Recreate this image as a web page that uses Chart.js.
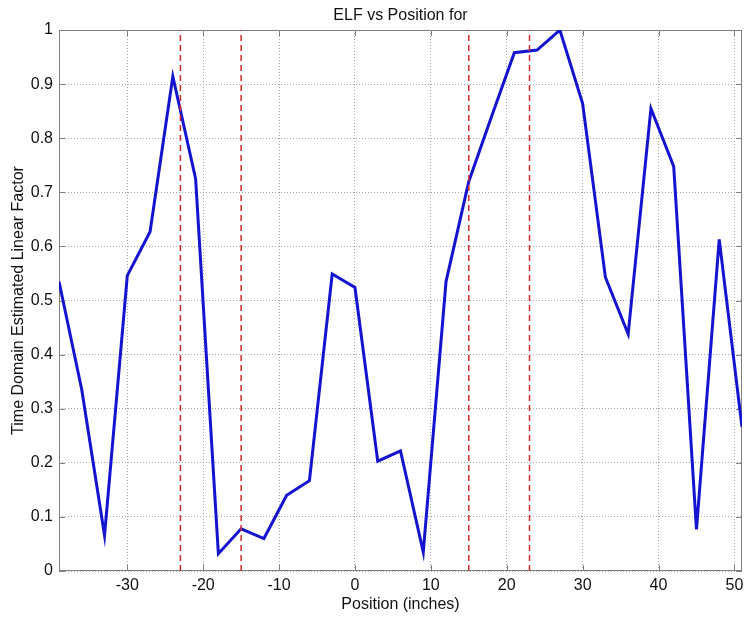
<!DOCTYPE html>
<html>
<head>
<meta charset="utf-8">
<script src="https://cdn.jsdelivr.net/npm/chart.js@4/dist/chart.umd.min.js"></script>
<style>
  html,body{margin:0;padding:0;background:#fff;}
  #wrap{width:749px;height:619px;}
</style>
</head>
<body>
<div id="wrap"><canvas id="c" width="749" height="619"></canvas></div>
<script>
// ---- data ----
const positions = [-39,-36,-33,-30,-27,-24,-21,-18,-15,-12,-9,-6,-3,0,3,6,9,12,15,18,21,24,27,30,33,36,39,42,45,48,51];
const elfValues = [0.535,0.335,0.066,0.546,0.627,0.914,0.725,0.032,0.078,0.060,0.140,0.167,0.549,0.524,0.203,0.222,0.035,0.535,0.720,0.840,0.958,0.963,1.000,0.864,0.543,0.438,0.855,0.748,0.077,0.613,0.266];
const markerPositions = [-23,-15,15,23];
const xTicks = [-30,-20,-10,0,10,20,30,40,50];
const yTicks = [0,0.1,0.2,0.3,0.4,0.5,0.6,0.7,0.8,0.9,1];
const titleText = 'ELF vs Position for';
const xTitle = 'Position (inches)';
const yTitle = 'Time Domain Estimated Linear Factor';

const FONT = "'Liberation Sans', Arial, Helvetica, sans-serif";

const markerSets = markerPositions.map(p => ({
  data: [{x:p, y:0}, {x:p, y:1}],
  showLine: true,
  borderColor: '#d42a2a',
  borderWidth: 1.5,
  borderDash: [6,4],
  pointRadius: 0,
  fill: false
}));

const mainSet = {
  data: positions.map((p,i) => ({x:p, y:elfValues[i]})),
  showLine: true,
  borderColor: '#1414d0',
  borderWidth: 3,
  pointRadius: 0,
  tension: 0,
  fill: false
};

const frame = {
  id: 'frame',
  beforeDatasetsDraw(chart) {
    const {ctx, chartArea:{left,right,top,bottom}, scales:{x,y}} = chart;
    ctx.save();
    ctx.strokeStyle = '#808080';
    ctx.lineWidth = 1;
    ctx.setLineDash([]);
    ctx.strokeRect(left+0.5, top+0.5, right-left-1, bottom-top-1);
    ctx.beginPath();
    xTicks.forEach(v => {
      const px = Math.round(x.getPixelForValue(v)) + 0.5;
      ctx.moveTo(px, bottom); ctx.lineTo(px, bottom-6);
      ctx.moveTo(px, top); ctx.lineTo(px, top+6);
    });
    yTicks.forEach(v => {
      const py = Math.round(y.getPixelForValue(v)) + 0.5;
      ctx.moveTo(left, py); ctx.lineTo(left+6, py);
      ctx.moveTo(right, py); ctx.lineTo(right-6, py);
    });
    ctx.stroke();
    ctx.restore();
  }
};

new Chart(document.getElementById('c'), {
  type: 'scatter',
  data: { datasets: [...markerSets, mainSet] },
  options: {
    responsive: false,
    animation: false,
    layout: { padding: { left: 0, right: 7, top: 0, bottom: 0 } },
    plugins: {
      legend: { display: false },
      tooltip: { enabled: false },
      title: {
        display: true,
        fullSize: false,
        text: titleText,
        color: '#111',
        font: { family: FONT, size: 16, weight: 'normal' },
        padding: { top: 5.6, bottom: 5.2 }
      }
    },
    scales: {
      x: {
        type: 'linear',
        min: -39, max: 51,
        afterBuildTicks: s => { s.ticks = xTicks.map(v => ({value: v})); },
        afterFit: s => { s.height = 48; },
        grid: { color: '#a8a8a8', lineWidth: 1, drawTicks: false },
        border: { display: false, dash: [1,2] },
        ticks: { color: '#111', font: { family: FONT, size: 16 }, padding: 5, maxRotation: 0,
                 callback: v => String(v) },
        title: { display: true, text: xTitle, color: '#111',
                 font: { family: FONT, size: 16 }, padding: { top: 4.5, bottom: 4.5 } }
      },
      y: {
        type: 'linear',
        min: 0, max: 1,
        afterBuildTicks: s => { s.ticks = yTicks.map(v => ({value: v})); },
        afterFit: s => { s.width = 59; },
        grid: { color: '#a8a8a8', lineWidth: 1, drawTicks: false },
        border: { display: false, dash: [1,2] },
        ticks: { color: '#111', font: { family: FONT, size: 16 }, padding: 6,
                 callback: v => String(parseFloat(Number(v).toFixed(1))) },
        title: { display: true, text: yTitle, color: '#111',
                 font: { family: FONT, size: 16 }, padding: { top: 9, bottom: 9 } }
      }
    }
  },
  plugins: [frame]
});
</script>
</body>
</html>
